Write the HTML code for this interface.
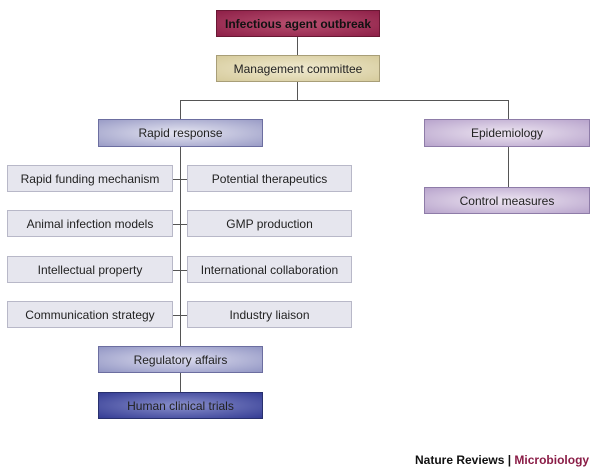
<!DOCTYPE html>
<html><head><style>
body{margin:0;width:600px;height:473px;background:#fff;position:relative;font-family:"Liberation Sans",sans-serif;overflow:hidden}
.b{position:absolute;box-sizing:border-box;display:flex;align-items:center;justify-content:center;font-size:12px;color:#222;border:1px solid #999}
.g{background:#e6e6ee;border-color:#b8b8c8}
.l{position:absolute;background:#555}
</style></head><body>
<div class="l" style="left:297px;top:36px;width:1px;height:20px"></div>
<div class="l" style="left:297px;top:82px;width:1px;height:19px"></div>
<div class="l" style="left:180px;top:100px;width:329px;height:1px"></div>
<div class="l" style="left:180px;top:100px;width:1px;height:20px"></div>
<div class="l" style="left:508px;top:100px;width:1px;height:20px"></div>
<div class="l" style="left:508px;top:146px;width:1px;height:42px"></div>
<div class="l" style="left:180px;top:146px;width:1px;height:246px"></div>
<div class="l" style="left:173px;top:179px;width:14px;height:1px"></div>
<div class="l" style="left:173px;top:224px;width:14px;height:1px"></div>
<div class="l" style="left:173px;top:270px;width:14px;height:1px"></div>
<div class="l" style="left:173px;top:315px;width:14px;height:1px"></div>
<div class="b" style="left:216px;top:10px;width:164px;height:27px;background:radial-gradient(ellipse at center,#b85070,#8e2048);border-color:#6a1834;font-weight:bold;color:#111">Infectious agent outbreak</div>
<div class="b" style="left:216px;top:55px;width:164px;height:27px;background:radial-gradient(ellipse at center,#f0ead0,#d6cb9c);border-color:#a89e78">Management committee</div>
<div class="b" style="left:98px;top:119px;width:165px;height:28px;background:radial-gradient(ellipse at center,#e6e6f2,#9a9cc6);border-color:#6c6ea0">Rapid response</div>
<div class="b" style="left:424px;top:119px;width:166px;height:28px;background:radial-gradient(ellipse at center,#eee6f2,#b8a4cc);border-color:#8e7ca8">Epidemiology</div>
<div class="b" style="left:424px;top:187px;width:166px;height:27px;background:radial-gradient(ellipse at center,#eee6f2,#b8a4cc);border-color:#8e7ca8">Control measures</div>
<div class="b g" style="left:7px;top:165px;width:166px;height:27px">Rapid funding mechanism</div>
<div class="b g" style="left:187px;top:165px;width:165px;height:27px">Potential therapeutics</div>
<div class="b g" style="left:7px;top:210px;width:166px;height:27px">Animal infection models</div>
<div class="b g" style="left:187px;top:210px;width:165px;height:27px">GMP production</div>
<div class="b g" style="left:7px;top:256px;width:166px;height:27px">Intellectual property</div>
<div class="b g" style="left:187px;top:256px;width:165px;height:27px">International collaboration</div>
<div class="b g" style="left:7px;top:301px;width:166px;height:27px">Communication strategy</div>
<div class="b g" style="left:187px;top:301px;width:165px;height:27px">Industry liaison</div>
<div class="b" style="left:98px;top:346px;width:165px;height:27px;background:radial-gradient(ellipse at center,#dcdcee,#9296c4);border-color:#6c6ea0">Regulatory affairs</div>
<div class="b" style="left:98px;top:392px;width:165px;height:27px;background:radial-gradient(ellipse at center,#8a90cc,#343c94);border-color:#28306e">Human clinical trials</div>
<div style="position:absolute;left:415px;top:453px;font-size:12px;font-weight:bold;color:#111;white-space:nowrap">Nature Reviews | <span style="color:#8a1c46">Microbiology</span></div>
</body></html>
